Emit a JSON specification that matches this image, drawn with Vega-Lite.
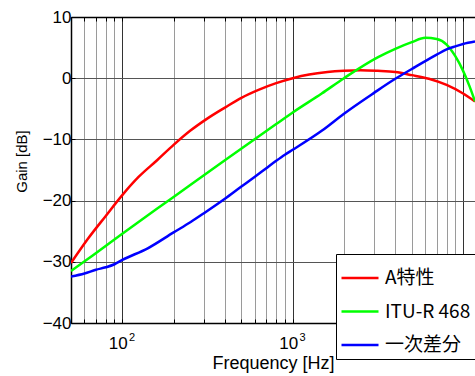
{
  "$schema": "https://vega.github.io/schema/vega-lite/v6.json",
  "width": 404,
  "height": 306,
  "autosize": "none",
  "padding": {"left": 71, "top": 17, "right": 0, "bottom": 53},
  "background": "white",
  "config": {
    "view": {"stroke": null},
    "font": "Liberation Sans",
    "axis": {"labelColor": "black", "titleColor": "black", "titleFontWeight": "normal", "domainColor": "black", "tickColor": "black"}
  },
  "data": {
    "values": [
      {"s": "A特性", "f": 50, "g": -30.2},
      {"s": "A特性", "f": 63, "g": -26.2},
      {"s": "A特性", "f": 80, "g": -22.5},
      {"s": "A特性", "f": 100, "g": -19.1},
      {"s": "A特性", "f": 125, "g": -16.1},
      {"s": "A特性", "f": 160, "g": -13.4},
      {"s": "A特性", "f": 200, "g": -10.9},
      {"s": "A特性", "f": 250, "g": -8.6},
      {"s": "A特性", "f": 315, "g": -6.6},
      {"s": "A特性", "f": 400, "g": -4.8},
      {"s": "A特性", "f": 500, "g": -3.2},
      {"s": "A特性", "f": 630, "g": -1.9},
      {"s": "A特性", "f": 800, "g": -0.8},
      {"s": "A特性", "f": 1000, "g": 0},
      {"s": "A特性", "f": 1250, "g": 0.6},
      {"s": "A特性", "f": 1600, "g": 1.0},
      {"s": "A特性", "f": 2000, "g": 1.2},
      {"s": "A特性", "f": 2500, "g": 1.3},
      {"s": "A特性", "f": 3150, "g": 1.2},
      {"s": "A特性", "f": 4000, "g": 1.0},
      {"s": "A特性", "f": 5000, "g": 0.5},
      {"s": "A特性", "f": 6300, "g": -0.1},
      {"s": "A特性", "f": 8000, "g": -1.1},
      {"s": "A特性", "f": 10000, "g": -2.5},
      {"s": "A特性", "f": 11745, "g": -3.8},
      {"s": "ITU-R 468", "f": 50, "g": -31.5},
      {"s": "ITU-R 468", "f": 63, "g": -29.5},
      {"s": "ITU-R 468", "f": 100, "g": -25.4},
      {"s": "ITU-R 468", "f": 200, "g": -19.4},
      {"s": "ITU-R 468", "f": 400, "g": -13.4},
      {"s": "ITU-R 468", "f": 800, "g": -7.5},
      {"s": "ITU-R 468", "f": 1000, "g": -5.6},
      {"s": "ITU-R 468", "f": 1480, "g": -2.5},
      {"s": "ITU-R 468", "f": 2000, "g": 0.0},
      {"s": "ITU-R 468", "f": 3150, "g": 3.4},
      {"s": "ITU-R 468", "f": 4000, "g": 4.8},
      {"s": "ITU-R 468", "f": 5000, "g": 5.9},
      {"s": "ITU-R 468", "f": 6000, "g": 6.6},
      {"s": "ITU-R 468", "f": 7000, "g": 6.4},
      {"s": "ITU-R 468", "f": 8000, "g": 5.5},
      {"s": "ITU-R 468", "f": 9000, "g": 3.6},
      {"s": "ITU-R 468", "f": 10000, "g": 1.2},
      {"s": "ITU-R 468", "f": 10900, "g": -1.3},
      {"s": "ITU-R 468", "f": 11745, "g": -3.8},
      {"s": "一次差分", "f": 50, "g": -32.4},
      {"s": "一次差分", "f": 60, "g": -31.9},
      {"s": "一次差分", "f": 70, "g": -31.3},
      {"s": "一次差分", "f": 80, "g": -30.9},
      {"s": "一次差分", "f": 90, "g": -30.4},
      {"s": "一次差分", "f": 100, "g": -29.7},
      {"s": "一次差分", "f": 141, "g": -27.8},
      {"s": "一次差分", "f": 200, "g": -25.2},
      {"s": "一次差分", "f": 252, "g": -23.5},
      {"s": "一次差分", "f": 300, "g": -22.1},
      {"s": "一次差分", "f": 400, "g": -19.7},
      {"s": "一次差分", "f": 500, "g": -17.7},
      {"s": "一次差分", "f": 600, "g": -16.1},
      {"s": "一次差分", "f": 700, "g": -14.7},
      {"s": "一次差分", "f": 800, "g": -13.5},
      {"s": "一次差分", "f": 900, "g": -12.5},
      {"s": "一次差分", "f": 1000, "g": -11.7},
      {"s": "一次差分", "f": 1480, "g": -8.6},
      {"s": "一次差分", "f": 2000, "g": -5.8},
      {"s": "一次差分", "f": 3000, "g": -2.4},
      {"s": "一次差分", "f": 4000, "g": -0.1},
      {"s": "一次差分", "f": 5000, "g": 1.5},
      {"s": "一次差分", "f": 6000, "g": 2.8},
      {"s": "一次差分", "f": 7000, "g": 3.85},
      {"s": "一次差分", "f": 8000, "g": 4.7},
      {"s": "一次差分", "f": 9000, "g": 5.2},
      {"s": "一次差分", "f": 10000, "g": 5.6},
      {"s": "一次差分", "f": 11745, "g": 6.0}
    ]
  },
  "layer": [
    {
      "mark": {"type": "line", "interpolate": "monotone", "clip": true},
      "encoding": {
        "x": {
          "field": "f", "type": "quantitative",
          "scale": {"type": "log", "domain": [50, 11745], "nice": false},
          "axis": {
            "orient": "bottom",
            "values": [50, 60, 70, 80, 90, 100, 200, 300, 400, 500, 600, 700, 800, 900, 1000, 2000, 3000, 4000, 5000, 6000, 7000, 8000, 9000, 10000],
            "labelExpr": "datum.value == 100 || datum.value == 1000 || datum.value == 10000 ? '10' : ''",
            "labelOverlap": false, "labelFlush": false,
            "labelFontSize": 17, "labelBaseline": "alphabetic", "labelPadding": 29.5, "labelOffset": -4.5,
            "grid": true,
            "gridColor": {"condition": {"test": "datum.value == 100 || datum.value == 1000 || datum.value == 10000", "value": "#333333"}, "value": "#9a9a9a"},
            "gridWidth": 1,
            "ticks": true, "tickSize": -4, "tickWidth": 1,
            "domainWidth": 1.5,
            "title": "Frequency [Hz]", "titleFontSize": 18, "titleBaseline": "alphabetic", "titleY": 45
          }
        },
        "y": {
          "field": "g", "type": "quantitative",
          "scale": {"domain": [-40, 10], "nice": false},
          "axis": {
            "orient": "left",
            "values": [-40, -30, -20, -10, 0, 10],
            "labelFontSize": 17, "labelPadding": 4,
            "grid": true, "gridColor": "#555555", "gridWidth": 1,
            "ticks": true, "tickSize": -4,
            "domainWidth": 1.5,
            "title": "Gain [dB]", "titleFontSize": 15, "titleX": -50, "titleY": 144, "titleAlign": "center", "titleBaseline": "middle", "titleAngle": -90
          }
        },
        "color": {
          "field": "s", "type": "nominal",
          "scale": {"domain": ["A特性", "ITU-R 468", "一次差分"], "range": ["#ff0000", "#00ff00", "#0000ff"]},
          "legend": {
            "orient": "none", "legendX": 265, "legendY": 237,
            "title": null, "strokeColor": "black", "fillColor": "white",
            "padding": 4, "rowPadding": 3.5,
            "symbolType": "stroke", "symbolSize": 1369, "symbolStrokeWidth": 2.6,
            "labelFont": "Noto Sans CJK JP", "labelFontSize": 19, "labelColor": "black", "labelOffset": 5, "labelLimit": 300,
            "labelExpr": "datum.label + '\u00a0\u00a0\u00a0\u00a0'"
          }
        },
        "strokeWidth": {
          "field": "s", "type": "nominal",
          "scale": {"domain": ["A特性", "ITU-R 468", "一次差分"], "range": [2.5, 2.5, 3.2]},
          "legend": null
        }
      }
    },
    {
      "mark": {"type": "point", "opacity": 0},
      "encoding": {
        "x": {
          "field": "f", "type": "quantitative",
          "axis": {
            "orient": "top",
            "values": [50, 60, 70, 80, 90, 100, 200, 300, 400, 500, 600, 700, 800, 900, 1000, 2000, 3000, 4000, 5000, 6000, 7000, 8000, 9000, 10000],
            "labels": false, "grid": false, "ticks": true, "tickSize": -4,
            "domainWidth": 1.5, "title": null
          }
        }
      }
    },
    {
      "mark": {"type": "point", "opacity": 0},
      "encoding": {
        "x": {
          "field": "f", "type": "quantitative",
          "axis": {
            "orient": "bottom",
            "values": [100, 1000, 10000],
            "labelExpr": "datum.value == 100 ? '2' : datum.value == 1000 ? '3' : '4'",
            "labelOverlap": false, "labelFlush": false,
            "labelFontSize": 11, "labelBaseline": "alphabetic", "labelPadding": 17, "labelOffset": 9.3,
            "grid": false, "ticks": false, "domain": false, "title": null
          }
        }
      }
    }
  ],
  "resolve": {"axis": {"x": "independent"}}
}
